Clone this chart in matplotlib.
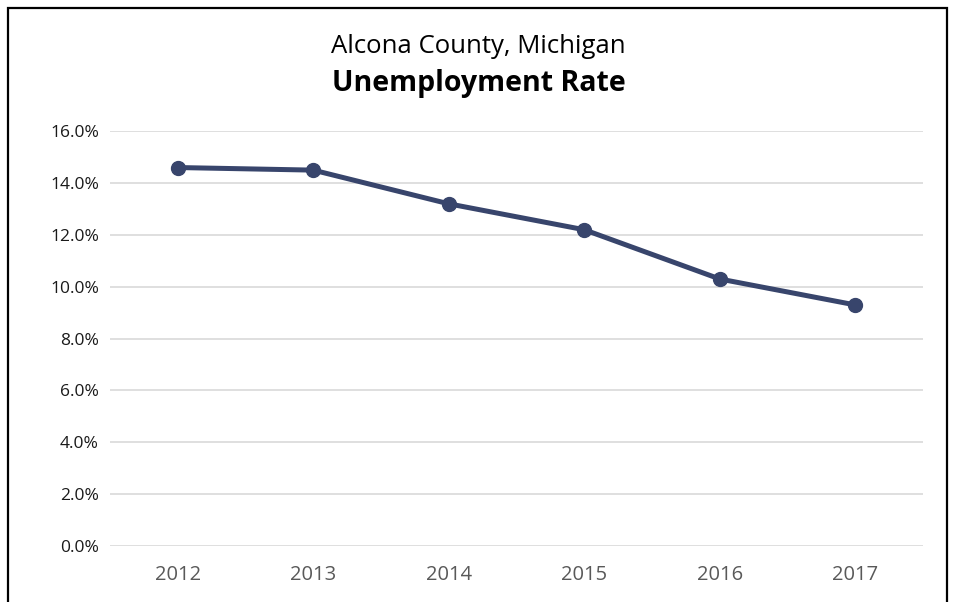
import matplotlib
matplotlib.use("Agg")
import matplotlib.pyplot as plt
from matplotlib.patches import Rectangle
from matplotlib.ticker import FuncFormatter

# Data
years = ["2012", "2013", "2014", "2015", "2016", "2017"]
rate = [14.6, 14.5, 13.2, 12.2, 10.3, 9.3]
y_ticks = [0, 2, 4, 6, 8, 10, 12, 14, 16]

plt.rcParams['font.family'] = ['Open Sans', 'DejaVu Sans']

fig = plt.figure(figsize=(9.57, 6.02), dpi=100)
ax = fig.add_axes([0.115, 0.093, 0.8495, 0.689])

x = list(range(len(years)))
ax.plot(x, rate, color='#38456C', linewidth=3.6, marker='o', markersize=10,
        solid_capstyle='round', zorder=3)

ax.set_xlim(-0.5, len(years) - 0.5)
ax.set_ylim(0, 16)
ax.set_xticks(x)
ax.set_xticklabels(years)
ax.set_yticks(y_ticks)
ax.yaxis.set_major_formatter(FuncFormatter(lambda v, p: f"{v:.1f}%"))

ax.grid(axis='y', color='#D9D9D9', linewidth=1.2)
ax.set_axisbelow(True)
for s in ax.spines.values():
    s.set_visible(False)
ax.tick_params(axis='both', length=0)
ax.tick_params(axis='y', labelsize=12.5, labelcolor='#1a1a1a', pad=8)
ax.tick_params(axis='x', labelsize=14.5, labelcolor='#595959', pad=14)

# Two-line title
fig.text(0.5, 0.922, "Alcona County, Michigan", ha='center', va='center',
         fontsize=18.5, color='#000000')
fig.text(0.5, 0.862, "Unemployment Rate", ha='center', va='center',
         fontsize=20.5, fontweight='bold', color='#000000')

# Outer border (bottom edge runs off the image)
border = Rectangle((0.0084, -0.05), 0.981, 1.037, transform=fig.transFigure,
                   fill=False, edgecolor='black', linewidth=1.6)
fig.patches.append(border)

fig.savefig("out.png", dpi=100)
